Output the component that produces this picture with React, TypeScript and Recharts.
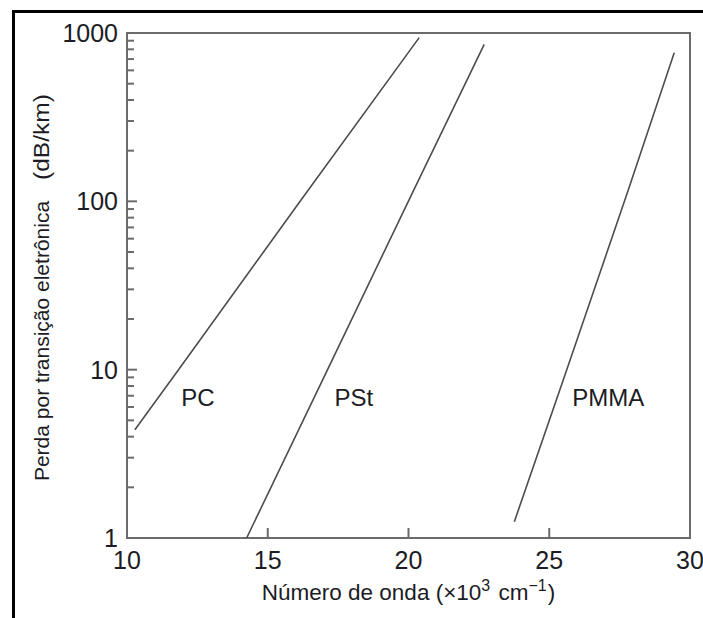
import React from 'react'
import { LineChart, Line, XAxis, YAxis, ReferenceArea, ReferenceDot, Label } from 'recharts'

// curves (x in 10^3 cm^-1, loss in dB/km)
const pcX = [10.28, 11.83, 16.15, 20.38]
const pcY = [4.4, 10, 100, 939]
const pstX = [14.25, 16.95, 20.19, 22.69]
const pstY = [1.0, 8.7, 117, 857]
const pmmaX = [23.76, 25.5, 27.81, 29.44]
const pmmaY = [1.25, 8.7, 117, 764]

const curveNames = ['PC', 'PSt', 'PMMA']
const nameX = [12.52, 18.06, 27.1]
const nameY = [6.8, 6.8, 6.8]

const xTicks = [10, 15, 20, 25, 30]
const yMajor = [1, 10, 100, 1000]
const yMinor = [2, 3, 4, 5, 6, 7, 8, 9, 20, 30, 40, 50, 60, 70, 80, 90, 200, 300, 400, 500, 600, 700, 800, 900]

const FONT = '"Liberation Sans", Arial, Helvetica, sans-serif'
const TEXT = '#1c1c24'
const AXIS = '#6b6b6b'
const LINE = '#4d4d4d'

const toPoints = (xs: number[], ys: number[]) => xs.map((x, i) => ({ x, y: ys[i] }))

const series = [
  { name: 'PC', data: toPoints(pcX, pcY) },
  { name: 'PSt', data: toPoints(pstX, pstY) },
  { name: 'PMMA', data: toPoints(pmmaX, pmmaY) },
]

function YTick(props: any) {
  const { x, y, payload } = props
  const major = yMajor.includes(payload.value)
  return (
    <g>
      <line x1={x} x2={x + (major ? 10 : 7)} y1={y} y2={y} stroke={AXIS} strokeWidth={2} />
      {major && (
        <text x={x - 9} y={y} textAnchor="end" dominantBaseline="central" fontSize={25} fontFamily={FONT} fill={TEXT}>
          {payload.value}
        </text>
      )}
    </g>
  )
}

function XTick(props: any) {
  const { x, y, payload } = props
  const inner = payload.value !== 10 && payload.value !== 30
  return (
    <g>
      {inner && <line x1={x} x2={x} y1={y} y2={y - 10} stroke={AXIS} strokeWidth={2} />}
      <text x={x} y={y + 31} textAnchor="middle" fontSize={25} fontFamily={FONT} fill={TEXT}>
        {payload.value}
      </text>
    </g>
  )
}

function XTitle(props: any) {
  const { viewBox } = props
  const cx = viewBox.x + viewBox.width / 2
  return (
    <text x={cx} y={600} textAnchor="middle" fontSize={22.5} fontFamily={FONT} fill={TEXT}>
      Número de onda (×10
      <tspan fontSize={16} dy={-9}>3</tspan>
      <tspan dy={9} dx={2}> cm</tspan>
      <tspan fontSize={16} dy={-9}>−1</tspan>
      <tspan dy={9} dx={1}>)</tspan>
    </text>
  )
}

function YTitle() {
  return (
    <g fontFamily={FONT} fill={TEXT}>
      <text x={41} y={341} fontSize={21} textAnchor="middle" dominantBaseline="central" transform="rotate(-90 41 341)">
        Perda por transição eletrônica
      </text>
      <text
        x={41}
        y={137}
        fontSize={22}
        textLength={86}
        lengthAdjust="spacingAndGlyphs"
        textAnchor="middle"
        dominantBaseline="central"
        transform="rotate(-90 41 137)"
      >
        (dB/km)
      </text>
    </g>
  )
}

export default function App() {
  return (
    <div style={{ position: 'absolute', left: 0, top: 0, width: 703, height: 618, background: '#fff' }}>
      <div
        style={{
          position: 'absolute',
          left: 12,
          top: 10,
          width: 691,
          height: 608,
          borderLeft: '3px solid #000',
          borderTop: '3px solid #000',
          boxSizing: 'border-box',
        }}
      />
      <div style={{ position: 'absolute', left: 0, top: 0 }}>
        <LineChart width={703} height={618} margin={{ top: 33, right: 13, left: 0, bottom: 50 }}>
          <XAxis
            dataKey="x"
            type="number"
            domain={[10, 30]}
            ticks={xTicks}
            interval={0}
            height={30}
            axisLine={false}
            tickLine={false}
            tickSize={0}
            tickMargin={0}
            tick={<XTick />}
          >
            <Label content={<XTitle />} />
          </XAxis>
          <YAxis
            type="number"
            scale="log"
            domain={[1, 1000]}
            ticks={[...yMajor, ...yMinor].sort((a, b) => a - b)}
            interval={0}
            width={127}
            axisLine={false}
            tickLine={false}
            tickSize={0}
            tickMargin={0}
            tick={<YTick />}
            allowDataOverflow
          >
            <Label content={<YTitle />} />
          </YAxis>
          <ReferenceArea x1={10} x2={30} y1={1} y2={1000} fill="none" stroke={AXIS} strokeWidth={2} ifOverflow="visible" />
          {series.map((s) => (
            <Line
              key={s.name}
              data={s.data}
              dataKey="y"
              type="linear"
              stroke={LINE}
              strokeWidth={1.6}
              dot={false}
              activeDot={false}
              isAnimationActive={false}
            />
          ))}
          {curveNames.map((n, i) => (
            <ReferenceDot
              key={n}
              x={nameX[i]}
              y={nameY[i]}
              r={0}
              ifOverflow="visible"
              shape={(p: any) => (
                <text x={p.cx} y={p.cy} textAnchor="middle" dominantBaseline="central" fontSize={24} fontFamily={FONT} fill={TEXT}>
                  {n}
                </text>
              )}
            />
          ))}
        </LineChart>
      </div>
    </div>
  )
}
